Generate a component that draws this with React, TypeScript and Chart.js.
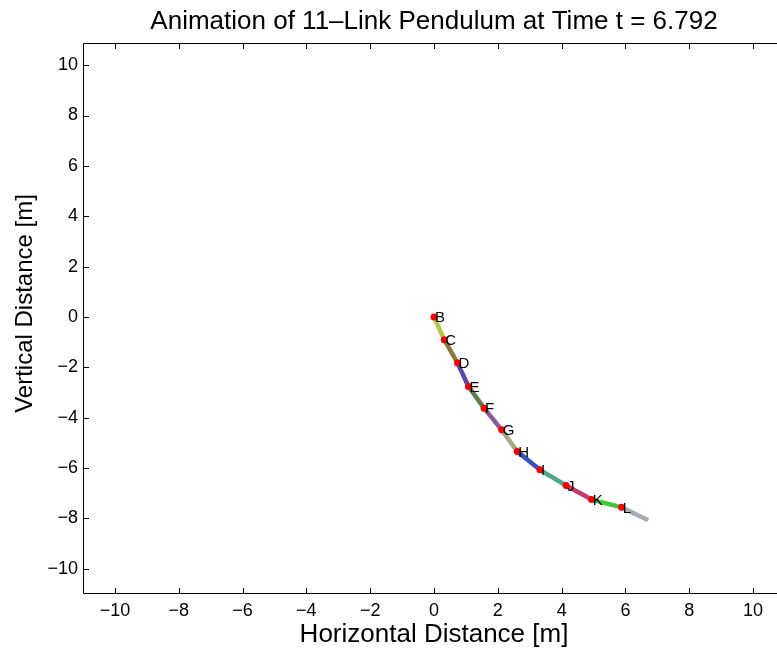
import React, { useEffect, useRef } from 'react';
import { Chart, registerables } from 'chart.js';

Chart.register(...registerables);

// ---- data ----
const jointLabels = ['B', 'C', 'D', 'E', 'F', 'G', 'H', 'I', 'J', 'K', 'L'];
const jointX = [0, 0.32, 0.74, 1.08, 1.57, 2.12, 2.61, 3.32, 4.14, 4.94, 5.88, 6.71];
const jointY = [0, -0.9, -1.83, -2.76, -3.62, -4.48, -5.34, -6.07, -6.69, -7.25, -7.56, -8.07];
const linkColors = [
  '#b2c846', '#8a7a3c', '#5a48ac', '#5e7c48', '#8c5c9a', '#a3a886',
  '#3550c4', '#4aa886', '#c43c72', '#44c838', '#a9aeb6',
];
const xTicks = [-10, -8, -6, -4, -2, 0, 2, 4, 6, 8, 10];
const yTicks = [-10, -8, -6, -4, -2, 0, 2, 4, 6, 8, 10];
const xRange = [-11, 11];
const yRange = [-11, 10.88];
const titleText = 'Animation of 11\u2013Link Pendulum at Time t = 6.792';
const xTitle = 'Horizontal Distance [m]';
const yTitle = 'Vertical Distance [m]';

const FONT = '"Liberation Sans", Arial, Helvetica, sans-serif';

const fmt = (v: number) => (v < 0 ? '\u2212' + Math.abs(v) : String(v));

const framePlugin = {
  id: 'frameAndLabels',
  afterDatasetsDraw(chart: any) {
    const ctx = chart.ctx;
    const { left, right, top, bottom } = chart.chartArea;
    const xs = chart.scales.x;
    const ys = chart.scales.y;
    ctx.save();
    // joint labels
    const meta = chart.getDatasetMeta(chart.data.datasets.length - 1);
    ctx.fillStyle = '#000';
    ctx.font = '15px ' + FONT;
    ctx.textAlign = 'left';
    ctx.textBaseline = 'middle';
    meta.data.forEach((pt: any, i: number) => {
      ctx.fillText(jointLabels[i], pt.x + 1, pt.y + 1);
    });
    // box
    ctx.strokeStyle = '#000';
    ctx.lineWidth = 1;
    ctx.beginPath();
    ctx.rect(left + 0.5, top + 0.5, right - left - 1, bottom - top - 1);
    ctx.stroke();
    // inward ticks
    const tl = 6;
    ctx.beginPath();
    xTicks.forEach((v) => {
      const px = Math.round(xs.getPixelForValue(v)) + 0.5;
      ctx.moveTo(px, bottom);
      ctx.lineTo(px, bottom - tl);
      ctx.moveTo(px, top);
      ctx.lineTo(px, top + tl);
    });
    yTicks.forEach((v) => {
      const py = Math.round(ys.getPixelForValue(v)) + 0.5;
      ctx.moveTo(left, py);
      ctx.lineTo(left + tl, py);
      ctx.moveTo(right, py);
      ctx.lineTo(right - tl, py);
    });
    ctx.stroke();
    // y-axis title
    ctx.translate(25, (top + bottom) / 2 - 15);
    ctx.rotate(-Math.PI / 2);
    ctx.font = '24px ' + FONT;
    ctx.textAlign = 'center';
    ctx.textBaseline = 'middle';
    ctx.fillText(yTitle, 0, 0);
    ctx.restore();
  },
};

export default function App() {
  const ref = useRef<HTMLCanvasElement | null>(null);

  useEffect(() => {
    if (!ref.current) return;
    const linkSets = linkColors.map((c, i) => ({
      type: 'line' as const,
      data: [
        { x: jointX[i], y: jointY[i] },
        { x: jointX[i + 1], y: jointY[i + 1] },
      ],
      borderColor: c,
      backgroundColor: c,
      borderWidth: 4.5,
      borderCapStyle: 'butt' as const,
      pointRadius: 0,
      showLine: true,
      fill: false,
      order: 2,
    }));
    const dots = {
      type: 'scatter' as const,
      data: jointLabels.map((_, i) => ({ x: jointX[i], y: jointY[i] })),
      pointRadius: 3.5,
      pointBackgroundColor: '#ff0000',
      pointBorderWidth: 0,
      showLine: false,
      order: 1,
    };
    const chart = new Chart(ref.current, {
      type: 'scatter',
      data: { datasets: [...linkSets, dots] as any },
      options: {
        responsive: false,
        maintainAspectRatio: false,
        animation: false,
        layout: { padding: 0 },
        plugins: {
          legend: { display: false },
          tooltip: { enabled: false },
          title: {
            display: true,
            text: titleText,
            color: '#000',
            font: { family: FONT, size: 26, weight: 'normal' },
            padding: { top: 6.4, bottom: 5.4 },
          },
        },
        scales: {
          x: {
            type: 'linear',
            position: 'bottom',
            min: xRange[0],
            max: xRange[1],
            afterBuildTicks: (s: any) => {
              s.ticks = xTicks.map((v) => ({ value: v }));
            },
            afterFit: (s: any) => {
              s.height = 60;
            },
            grid: { display: false, drawTicks: false },
            border: { display: false },
            ticks: {
              color: '#000',
              font: { family: FONT, size: 18 },
              padding: 6,
              maxRotation: 0,
              autoSkip: false,
              callback: (v: any) => fmt(Number(v)),
            },
            title: {
              display: true,
              text: xTitle,
              color: '#000',
              font: { family: FONT, size: 26 },
              padding: { top: 0, bottom: 4 },
            },
          },
          y: {
            type: 'linear',
            position: 'left',
            min: yRange[0],
            max: yRange[1],
            afterBuildTicks: (s: any) => {
              s.ticks = yTicks.map((v) => ({ value: v }));
            },
            afterFit: (s: any) => {
              s.width = 83;
            },
            grid: { display: false, drawTicks: false },
            border: { display: false },
            ticks: {
              color: '#000',
              font: { family: FONT, size: 18 },
              padding: 5,
              autoSkip: false,
              callback: (v: any) => fmt(Number(v)),
            },
            title: { display: false },
          },
          yRight: {
            type: 'linear',
            position: 'right',
            display: true,
            afterFit: (s: any) => {
              s.width = 83;
            },
            grid: { display: false, drawTicks: false },
            border: { display: false },
            ticks: { display: false },
          },
        },
      } as any,
      plugins: [framePlugin],
    });
    return () => chart.destroy();
  }, []);

  return (
    <div
      style={{
        position: 'absolute',
        left: 0,
        top: 0,
        width: 777,
        height: 654,
        overflow: 'hidden',
        background: '#fff',
      }}
    >
      <canvas ref={ref} width={868} height={654} style={{ display: 'block', width: 868, height: 654 }} />
    </div>
  );
}
